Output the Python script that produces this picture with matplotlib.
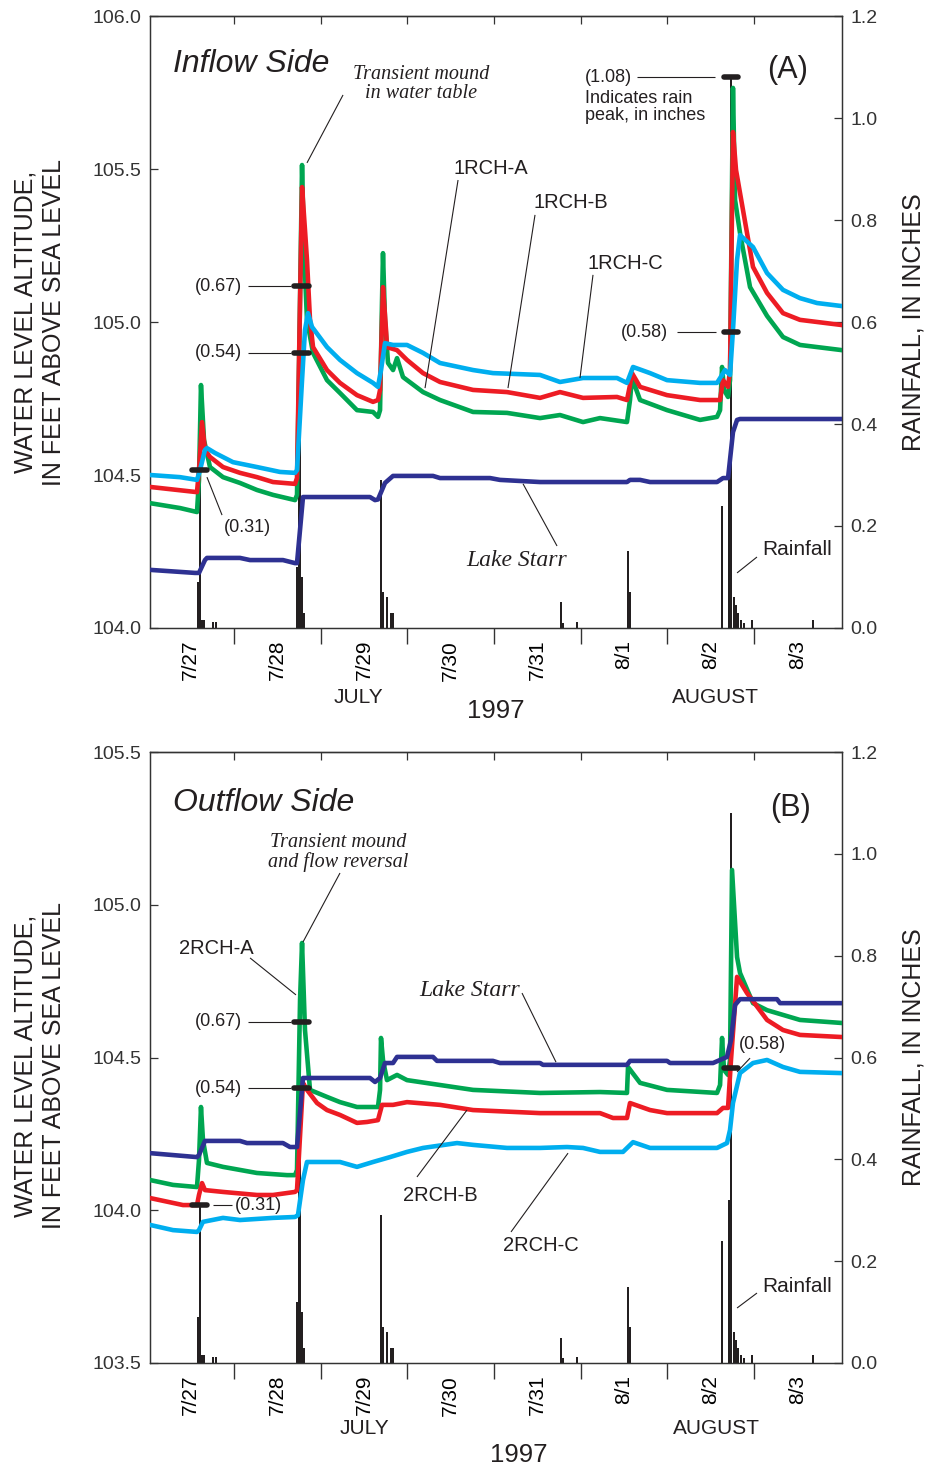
import matplotlib.pyplot as plt

plt.rcParams['font.family'] = ['Liberation Sans', 'DejaVu Sans']

GREEN = '#00a651'
RED = '#ed1c24'
CYAN = '#00aeef'
NAVY = '#2e3192'
INK = '#231f20'
SERIF = ['Liberation Serif', 'DejaVu Serif']

# time axis: days after 7/27 00:00
day_ticks = [1, 2, 3, 4, 5, 6, 7]
day_label_pos = [0.5, 1.5, 2.5, 3.5, 4.5, 5.5, 6.5, 7.5]
day_labels = ['7/27', '7/28', '7/29', '7/30', '7/31', '8/1', '8/2', '8/3']

# rainfall, inches
rain_t = [0.585, 0.608, 0.631, 0.654, 0.758, 0.792,
          1.727, 1.750, 1.762, 1.785, 1.808,
          2.696, 2.719, 2.765, 2.811, 2.835,
          4.773, 4.796, 4.958,
          5.546, 5.569,
          6.631, 6.711, 6.734, 6.769, 6.792, 6.815, 6.850, 6.885, 6.977,
          7.681]
rain_in = [0.09, 0.31, 0.016, 0.016, 0.012, 0.012,
           0.12, 0.54, 0.67, 0.10, 0.03,
           0.29, 0.07, 0.06, 0.03, 0.03,
           0.05, 0.01, 0.012,
           0.15, 0.07,
           0.24, 0.32, 1.08, 0.06, 0.045, 0.03, 0.015, 0.01, 0.015,
           0.016]

# labelled rain peaks (time, inches)
peaks_top_t = [0.598, 1.780, 1.780, 6.734, 6.734]
peaks_top_in = [0.31, 0.67, 0.54, 0.58, 1.08]
peaks_bot_t = [0.598, 1.780, 1.780, 6.734]
peaks_bot_in = [0.31, 0.67, 0.54, 0.58]

# ---- (A) inflow side, feet above sea level ----
a1_t = [0.031, 0.377, 0.573, 0.596, 0.619, 0.654, 0.723, 0.873, 1.069, 1.265, 1.450,
        1.704, 1.727, 1.762, 1.785, 1.808, 1.842, 1.912, 2.073, 2.223, 2.419, 2.604,
        2.661, 2.685, 2.708, 2.719, 2.742, 2.777, 2.835, 2.881, 2.950, 3.181, 3.377,
        3.758, 4.150, 4.531, 4.761, 5.027, 5.223, 5.534, 5.569, 5.592, 5.685, 5.996,
        6.377, 6.573, 6.608, 6.631, 6.654, 6.700, 6.723, 6.757, 6.781, 6.838, 6.954,
        7.150, 7.334, 7.530, 8.015]
a1_ft = [104.408, 104.392, 104.379, 104.484, 104.794, 104.614, 104.526, 104.493, 104.474,
         104.451, 104.435, 104.418, 104.435, 105.072, 105.513, 105.235, 105.007, 104.899,
         104.810, 104.768, 104.712, 104.706, 104.690, 104.712, 105.072, 105.225, 105.007,
         104.866, 104.843, 104.882, 104.820, 104.771, 104.745, 104.706, 104.703, 104.686,
         104.696, 104.673, 104.686, 104.673, 104.745, 104.817, 104.745, 104.712, 104.680,
         104.690, 104.712, 104.853, 104.778, 104.755, 104.810, 105.765, 105.399, 105.291,
         105.114, 105.020, 104.951, 104.925, 104.908]

b1_t = [0.031, 0.573, 0.596, 0.631, 0.665, 0.723, 0.873, 1.069, 1.265, 1.450, 1.704,
        1.727, 1.762, 1.785, 1.819, 1.842, 1.877, 1.912, 2.073, 2.223, 2.419, 2.604,
        2.661, 2.685, 2.719, 2.754, 2.765, 2.881, 2.996, 3.181, 3.377, 3.758, 4.150,
        4.531, 4.761, 5.027, 5.419, 5.534, 5.569, 5.592, 5.685, 5.996, 6.377, 6.608,
        6.642, 6.700, 6.723, 6.757, 6.792, 6.838, 6.919, 6.988, 7.150, 7.334, 7.530, 8.015]
b1_ft = [104.461, 104.444, 104.516, 104.673, 104.582, 104.559, 104.526, 104.507, 104.493,
         104.477, 104.471, 104.490, 105.072, 105.441, 105.301, 105.203, 105.007, 104.918,
         104.843, 104.801, 104.761, 104.739, 104.745, 104.778, 105.114, 104.974, 104.918,
         104.908, 104.876, 104.833, 104.804, 104.778, 104.771, 104.752, 104.771, 104.752,
         104.755, 104.745, 104.794, 104.833, 104.788, 104.761, 104.745, 104.745, 104.810,
         104.788, 104.843, 105.621, 105.497, 105.422, 105.291, 105.180, 105.095, 105.029,
         105.007, 104.990]

c1_t = [0.031, 0.377, 0.573, 0.608, 0.665, 0.688, 0.781, 0.988, 1.265, 1.531, 1.704,
        1.727, 1.785, 1.819, 1.854, 1.900, 2.073, 2.223, 2.419, 2.604, 2.661, 2.696,
        2.742, 2.835, 2.996, 3.181, 3.377, 3.758, 3.988, 4.531, 4.761, 5.027, 5.419,
        5.534, 5.569, 5.604, 5.800, 5.996, 6.377, 6.573, 6.631, 6.665, 6.723, 6.757,
        6.804, 6.838, 6.988, 7.150, 7.334, 7.530, 7.727, 8.015]
c1_ft = [104.500, 104.493, 104.484, 104.516, 104.582, 104.588, 104.572, 104.542, 104.526,
         104.510, 104.507, 104.516, 104.810, 104.974, 105.029, 104.984, 104.918, 104.876,
         104.833, 104.801, 104.788, 104.843, 104.931, 104.925, 104.925, 104.899, 104.866,
         104.843, 104.833, 104.827, 104.804, 104.817, 104.817, 104.801, 104.827, 104.853,
         104.833, 104.810, 104.801, 104.801, 104.827, 104.843, 104.827, 104.974, 105.203,
         105.284, 105.245, 105.160, 105.105, 105.078, 105.062, 105.052]

lake1_t = [0.031, 0.550, 0.596, 0.665, 0.688, 1.069, 1.185, 1.565, 1.704, 1.727, 1.796,
           1.842, 2.569, 2.627, 2.661, 2.742, 2.835, 3.296, 3.377, 3.954, 4.069, 4.531,
           5.534, 5.569, 5.685, 5.800, 6.573, 6.642, 6.700, 6.757, 6.804, 6.838, 7.565, 8.015]
lake1_ft = [104.190, 104.180, 104.180, 104.222, 104.229, 104.229, 104.222, 104.222, 104.212,
            104.212, 104.428, 104.428, 104.428, 104.418, 104.420, 104.474, 104.497, 104.497,
            104.490, 104.490, 104.484, 104.477, 104.477, 104.484, 104.484, 104.477, 104.477,
            104.490, 104.490, 104.640, 104.680, 104.683, 104.683, 104.683]

# ---- (B) outflow side ----
a2_t = [0.031, 0.296, 0.573, 0.596, 0.619, 0.642, 0.688, 0.873, 1.069, 1.265, 1.612,
        1.704, 1.727, 1.762, 1.785, 1.819, 1.877, 2.073, 2.223, 2.419, 2.661, 2.685,
        2.696, 2.719, 2.765, 2.881, 2.996, 3.377, 3.758, 4.531, 5.223, 5.534, 5.546,
        5.685, 5.996, 6.573, 6.608, 6.631, 6.654, 6.700, 6.723, 6.746, 6.804, 6.838,
        6.988, 7.150, 7.530, 8.015]
a2_ft = [104.099, 104.083, 104.076, 104.164, 104.338, 104.230, 104.155, 104.142, 104.132,
         104.122, 104.115, 104.115, 104.132, 104.688, 104.875, 104.590, 104.394, 104.371,
         104.354, 104.338, 104.338, 104.394, 104.564, 104.492, 104.426, 104.443, 104.426,
         104.410, 104.394, 104.384, 104.387, 104.384, 104.469, 104.417, 104.394, 104.384,
         104.410, 104.564, 104.459, 104.443, 104.492, 105.114, 104.829, 104.777, 104.678,
         104.655, 104.623, 104.613]

b2_t = [0.031, 0.412, 0.573, 0.596, 0.631, 0.665, 0.873, 1.265, 1.450, 1.704, 1.727,
        1.796, 1.842, 1.958, 2.073, 2.223, 2.419, 2.535, 2.661, 2.708, 2.835, 2.996,
        3.377, 3.758, 4.531, 5.223, 5.373, 5.534, 5.569, 5.800, 5.996, 6.573, 6.642,
        6.700, 6.734, 6.804, 6.919, 7.150, 7.334, 7.530, 8.015]
b2_ft = [104.040, 104.017, 104.017, 104.050, 104.089, 104.066, 104.060, 104.050, 104.050,
         104.060, 104.066, 104.417, 104.394, 104.351, 104.328, 104.312, 104.286, 104.289,
         104.295, 104.345, 104.345, 104.354, 104.345, 104.328, 104.318, 104.318, 104.302,
         104.302, 104.351, 104.328, 104.318, 104.318, 104.335, 104.335, 104.492, 104.764,
         104.711, 104.623, 104.590, 104.574, 104.567]

c2_t = [0.031, 0.296, 0.573, 0.596, 0.642, 0.873, 1.069, 1.450, 1.704, 1.738, 1.796,
        1.842, 2.223, 2.419, 2.604, 2.800, 2.996, 3.181, 3.573, 3.758, 4.150, 4.531,
        4.842, 5.027, 5.223, 5.488, 5.604, 5.800, 6.573, 6.688, 6.723, 6.757, 6.838,
        6.988, 7.150, 7.334, 7.530, 8.015]
c2_ft = [103.952, 103.935, 103.929, 103.935, 103.962, 103.975, 103.968, 103.975, 103.978,
         103.984, 104.099, 104.158, 104.158, 104.142, 104.158, 104.174, 104.191, 104.204,
         104.220, 104.214, 104.204, 104.204, 104.207, 104.204, 104.191, 104.191, 104.223,
         104.204, 104.204, 104.220, 104.263, 104.351, 104.449, 104.482, 104.492, 104.469,
         104.453, 104.449]

lake2_t = [0.031, 0.573, 0.596, 0.665, 1.069, 1.150, 1.565, 1.646, 1.727, 1.796, 2.569,
           2.627, 2.685, 2.742, 2.835, 2.881, 3.296, 3.342, 3.988, 4.069, 4.531, 4.565,
           5.534, 5.569, 5.996, 6.031, 6.527, 6.608, 6.688, 6.734, 6.781, 6.838, 7.265,
           7.300, 8.015]
lake2_ft = [104.187, 104.174, 104.181, 104.227, 104.227, 104.220, 104.220, 104.207, 104.207,
            104.433, 104.433, 104.420, 104.433, 104.482, 104.482, 104.502, 104.502, 104.489,
            104.489, 104.482, 104.482, 104.476, 104.476, 104.489, 104.489, 104.482, 104.482,
            104.492, 104.502, 104.557, 104.672, 104.691, 104.691, 104.678, 104.678]


def rain_ft(v, ylim):
    return ylim[0] + v / 1.2 * (ylim[1] - ylim[0])


def pointer(ax, x0, y0, x1, y1):
    ax.plot([x0, x1], [y0, y1], color=INK, lw=0.8, solid_capstyle='butt', zorder=6)


def panel(rect, ylim, yticks, series, lake_t, lake_ft, pk_t, pk_in, ylab_y):
    ax = fig.add_axes(rect)
    ax2 = ax.twinx()
    ax.set_zorder(ax2.get_zorder() + 1)
    ax.patch.set_visible(False)

    ax2.bar(rain_t, rain_in, width=0.028, color=INK, linewidth=0)
    ax2.set_ylim(0, 1.2)
    ax2.set_yticks([0, 0.2, 0.4, 0.6, 0.8, 1.0, 1.2])
    ax2.set_yticklabels(['%.1f' % v for v in [0, 0.2, 0.4, 0.6, 0.8, 1.0, 1.2]])
    ax2.tick_params(axis='y', direction='in', length=6, width=0.9, pad=6,
                    labelsize=14, colors='#333333')

    for t, v, col in series:
        ax.plot(t, v, color=col, lw=3.3, solid_joinstyle='round', zorder=3)
    ax.plot(lake_t, lake_ft, color=NAVY, lw=3.3, solid_joinstyle='round', zorder=4)

    for t, v in zip(pk_t, pk_in):
        y = rain_ft(v, ylim)
        ax.plot([t - 0.085, t + 0.085], [y, y], color=INK, lw=4,
                solid_capstyle='round', zorder=7)

    ax.set_xlim(0.031, 8.015)
    ax.set_ylim(*ylim)
    ax.set_yticks(yticks)
    ax.set_yticklabels(['%.1f' % v for v in yticks])
    ax.tick_params(axis='y', direction='in', length=6, width=0.9, pad=6,
                   labelsize=14, colors='#333333')
    ax.set_xticks(day_ticks)
    ax.set_xticklabels([])
    ax.set_xticks(day_label_pos, minor=True)
    ax.set_xticklabels(day_labels, minor=True)
    ax.tick_params(axis='x', which='major', direction='out', length=11.5, width=1.0,
                   color='#333333')
    ax.tick_params(axis='x', which='minor', length=0, pad=8.5, labelsize=15,
                   labelrotation=90)
    top = ax.secondary_xaxis('top')
    top.set_xticks(day_ticks)
    top.tick_params(direction='in', length=6, width=0.9, labeltop=False, color='#333333')
    for a in (ax, ax2):
        for s in a.spines.values():
            s.set_linewidth(0.9)
            s.set_color('#333333')
    top.spines['top'].set_linewidth(0.9)
    top.spines['top'].set_color('#333333')

    ax.text(-0.159, ylab_y, 'WATER LEVEL ALTITUDE,\nIN FEET ABOVE SEA LEVEL',
            transform=ax.transAxes, rotation=90, ha='center', va='center',
            fontsize=18, linespacing=1.25, color=INK)
    ax.text(1.103, 0.5, 'RAINFALL, IN INCHES', transform=ax.transAxes, rotation=90,
            ha='center', va='center', fontsize=18, color=INK)
    return ax


fig = plt.figure(figsize=(9.26, 14.69), dpi=100)
fig.patch.set_facecolor('white')

# ---------------- panel A ----------------
ylA = (104.0, 106.0)
ax = panel([0.1620, 0.5725, 0.7473, 0.4166], ylA, [104.0, 104.5, 105.0, 105.5, 106.0],
           [(a1_t, a1_ft, GREEN), (b1_t, b1_ft, RED), (c1_t, c1_ft, CYAN)],
           lake1_t, lake1_ft, peaks_top_t, peaks_top_in, 0.5)

ax.text(0.033, 0.922, 'Inflow Side', transform=ax.transAxes, fontsize=23,
        style='italic', ha='left', va='center', color=INK)
ax.text(0.921, 0.912, '(A)', transform=ax.transAxes, fontsize=22, ha='center',
        va='center', color=INK)
ax.text(0.392, 0.889, 'Transient mound\nin water table', transform=ax.transAxes,
        family=SERIF, style='italic', fontsize=14.5, ha='center', va='center',
        linespacing=1.0, color=INK)
pointer(ax, 2.258, 105.742, 1.842, 105.520)
ax.text(5.592, 105.8, '(1.08)', fontsize=13, ha='right', va='center', color=INK)
pointer(ax, 5.650, 105.8, 6.545, 105.8)
ax.text(5.050, 105.703, 'Indicates rain\npeak, in inches', fontsize=13, ha='left',
        va='center', linespacing=1.0, color=INK)
ax.text(3.965, 105.503, '1RCH-A', fontsize=14.5, ha='center', va='center', color=INK)
pointer(ax, 3.585, 105.464, 3.204, 104.784)
ax.text(4.888, 105.389, '1RCH-B', fontsize=14.5, ha='center', va='center', color=INK)
pointer(ax, 4.473, 105.350, 4.161, 104.784)
ax.text(5.511, 105.190, '1RCH-C', fontsize=14.5, ha='center', va='center', color=INK)
pointer(ax, 5.142, 105.154, 4.992, 104.817)
for v in (0.67, 0.54):
    ax.text(1.092, rain_ft(v, ylA), '(%.2f)' % v, fontsize=13, ha='right',
            va='center', color=INK)
    pointer(ax, 1.162, rain_ft(v, ylA), 1.660, rain_ft(v, ylA))
ax.text(6.008, rain_ft(0.58, ylA), '(0.58)', fontsize=13, ha='right', va='center',
        color=INK)
pointer(ax, 6.111, rain_ft(0.58, ylA), 6.561, rain_ft(0.58, ylA))
ax.text(0.885, 104.330, '(0.31)', fontsize=13, ha='left', va='center', color=INK)
pointer(ax, 0.862, 104.369, 0.688, 104.493)
ax.text(4.265, 104.219, 'Lake Starr', family=SERIF, style='italic', fontsize=17,
        ha='center', va='center', color=INK)
pointer(ax, 4.727, 104.268, 4.335, 104.471)
ax.text(7.092, 104.255, 'Rainfall', fontsize=15, ha='left', va='center', color=INK)
pointer(ax, 7.034, 104.232, 6.804, 104.180)
ax.text(2.43, -0.113, 'JULY', transform=ax.get_xaxis_transform(), fontsize=15,
        ha='center', va='center', color=INK)
ax.text(6.55, -0.113, 'AUGUST', transform=ax.get_xaxis_transform(), fontsize=15,
        ha='center', va='center', color=INK)
ax.text(4.02, -0.136, '1997', transform=ax.get_xaxis_transform(), fontsize=18.5,
        ha='center', va='center', color=INK)

# ---------------- panel B ----------------
ylB = (103.5, 105.5)
bx = panel([0.1620, 0.07216, 0.7473, 0.4159], ylB, [103.5, 104.0, 104.5, 105.0, 105.5],
           [(a2_t, a2_ft, GREEN), (b2_t, b2_ft, RED), (c2_t, c2_ft, CYAN)],
           lake2_t, lake2_ft, peaks_bot_t, peaks_bot_in, 0.487)

bx.text(0.033, 0.917, 'Outflow Side', transform=bx.transAxes, fontsize=23,
        style='italic', ha='left', va='center', color=INK)
bx.text(0.925, 0.908, '(B)', transform=bx.transAxes, fontsize=22, ha='center',
        va='center', color=INK)
bx.text(0.272, 0.835, 'Transient mound\nand flow reversal', transform=bx.transAxes,
        family=SERIF, style='italic', fontsize=14.5, ha='center', va='center',
        linespacing=1.0, color=INK)
pointer(bx, 2.223, 105.104, 1.796, 104.878)
bx.text(0.792, 104.858, '2RCH-A', fontsize=14.5, ha='center', va='center', color=INK)
pointer(bx, 1.185, 104.826, 1.715, 104.705)
for v in (0.67, 0.54):
    bx.text(1.092, rain_ft(v, ylB), '(%.2f)' % v, fontsize=13, ha='right',
            va='center', color=INK)
    pointer(bx, 1.162, rain_ft(v, ylB), 1.660, rain_ft(v, ylB))
bx.text(1.015, rain_ft(0.31, ylB), '(0.31)', fontsize=13, ha='left', va='center',
        color=INK)
pointer(bx, 0.758, rain_ft(0.31, ylB), 0.977, rain_ft(0.31, ylB))
bx.text(3.723, 104.721, 'Lake Starr', family=SERIF, style='italic', fontsize=17,
        ha='center', va='center', color=INK)
pointer(bx, 4.323, 104.711, 4.715, 104.485)
bx.text(3.377, 104.047, '2RCH-B', fontsize=14.5, ha='center', va='center', color=INK)
pointer(bx, 3.111, 104.109, 3.688, 104.328)
bx.text(4.542, 103.883, '2RCH-C', fontsize=14.5, ha='center', va='center', color=INK)
pointer(bx, 4.196, 103.929, 4.854, 104.187)
bx.text(7.092, 104.541, '(0.58)', fontsize=13, ha='center', va='center', color=INK)
pointer(bx, 6.954, 104.498, 6.804, 104.453)
bx.text(7.092, 103.752, 'Rainfall', fontsize=15, ha='left', va='center', color=INK)
pointer(bx, 7.034, 103.729, 6.804, 103.680)
bx.text(2.51, -0.108, 'JULY', transform=bx.get_xaxis_transform(), fontsize=15,
        ha='center', va='center', color=INK)
bx.text(6.57, -0.108, 'AUGUST', transform=bx.get_xaxis_transform(), fontsize=15,
        ha='center', va='center', color=INK)
bx.text(4.28, -0.151, '1997', transform=bx.get_xaxis_transform(), fontsize=18.5,
        ha='center', va='center', color=INK)

fig.savefig('out.png', dpi=100, facecolor='white')
